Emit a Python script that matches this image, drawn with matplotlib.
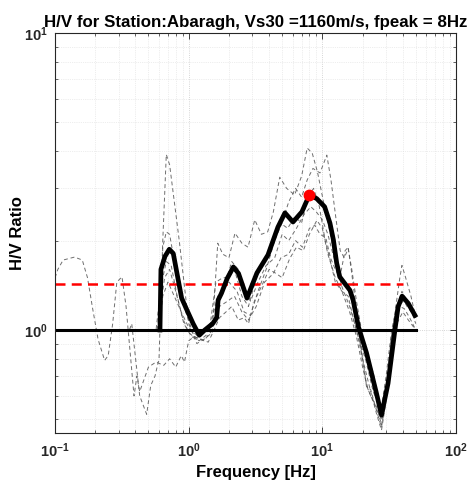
import matplotlib
matplotlib.use("Agg")
import math
import matplotlib.pyplot as plt
from matplotlib.ticker import LogLocator, FuncFormatter, NullFormatter

plt.rcParams['font.family'] = ['Liberation Sans', 'DejaVu Sans']
plt.rcParams['mathtext.fontset'] = 'custom'
plt.rcParams['mathtext.bf'] = 'Liberation Sans:bold'
plt.rcParams['mathtext.rm'] = 'Liberation Sans:bold'
plt.rcParams['mathtext.it'] = 'Liberation Sans:bold'

title_text = "H/V for Station:Abaragh, Vs30 =1160m/s, fpeak = 8Hz"
x_label = "Frequency [Hz]"
y_label = "H/V Ratio"

# Mean H/V curve (thick black)
mean_f = [0.61, 0.62, 0.665, 0.716, 0.767, 0.836, 0.886, 0.968, 1.08, 1.20, 1.32, 1.51, 1.62,
          1.66, 1.76, 1.94, 2.16, 2.36, 2.73, 3.24, 3.92, 4.65, 5.25, 6.03, 7.03, 8.0, 9.07,
          10.4, 11.4, 12.1, 12.8, 13.5, 14.7, 16.1, 17.0, 18.6, 21.4, 25.4, 27.7, 31.0, 34.9,
          36.9, 39.5, 43.9, 49.3]
mean_a = [1.0, 1.6, 1.77, 1.87, 1.81, 1.47, 1.28, 1.17, 1.05, 0.96, 1.0, 1.05, 1.10,
          1.26, 1.33, 1.49, 1.63, 1.55, 1.28, 1.556, 1.79, 2.22, 2.48, 2.31, 2.5, 2.85, 2.77,
          2.60, 2.29, 2.01, 1.68, 1.51, 1.435, 1.36, 1.26, 1.026, 0.837, 0.612, 0.517, 0.661, 1.0,
          1.198, 1.30, 1.23, 1.12]

# Individual window curves (thin dashed)
w1_f = [0.1, 0.105, 0.115, 0.14, 0.16, 0.175, 0.19, 0.21, 0.235, 0.25, 0.27, 0.29, 0.317, 0.34,
        0.39, 0.41, 0.43, 0.5, 0.57, 0.65, 0.72, 0.8, 0.88, 0.93, 1.0, 1.1, 1.25, 1.4, 1.55, 1.7,
        1.9, 2.1, 2.35, 2.6, 2.8, 3.1, 3.5, 4.0, 4.5, 5.0, 5.7, 6.4, 7.2, 8.0, 9.1, 10, 11, 12.5,
        14, 16, 18, 20, 22, 25, 27.7, 30, 33, 36, 40, 44, 50]
w1_a = [1.5, 1.6, 1.72, 1.76, 1.72, 1.5, 1.2, 0.93, 0.79, 0.82, 1.05, 1.45, 1.51, 1.2,
        0.6, 0.7, 0.62, 0.75, 0.78, 0.76, 0.80, 0.75, 0.82, 0.78, 0.92, 0.95, 0.93, 0.91, 1.0, 1.1,
        1.15, 1.2, 1.08, 1.1, 1.05, 1.25, 1.4, 1.6, 1.55, 1.5, 1.74, 1.9, 1.85, 2.1, 2.34, 2.2, 1.8, 1.5,
        1.35, 1.15, 0.95, 0.75, 0.63, 0.55, 0.5, 0.62, 0.9, 1.05, 1.15, 1.08, 1.0]

w2_f = [0.1, 0.36, 0.375, 0.43, 0.485, 0.52, 0.56, 0.6, 0.64, 0.68, 0.72, 0.85, 1.0, 1.15, 1.3,
        1.5, 1.65, 1.8, 2.0, 2.22, 2.5, 2.78, 3.12, 3.5, 3.9, 4.3, 4.8, 5.4, 6.2, 7.0, 7.7, 8.4,
        9.2, 10.2, 11.5, 12.5, 14, 16, 18, 20, 23, 25.5, 27.7, 29.5, 32, 35, 38, 39.4, 42, 46, 50]
w2_a = [1.0, 1.0, 1.05, 0.6, 0.52, 0.65, 0.70, 0.8, 2.0, 3.9, 3.6, 2.0, 1.05, 0.90, 0.93,
        0.98, 1.96, 1.8, 1.75, 2.12, 1.96, 1.9, 2.35, 2.1, 2.14, 2.5, 3.27, 3.0, 2.85, 3.3, 4.1, 3.94,
        3.4, 2.7, 2.1, 1.7, 1.4, 1.2, 1.0, 0.8, 0.62, 0.52, 0.46, 0.55, 0.85, 1.15, 1.5, 1.65, 1.5, 1.3, 1.1]

w3_f = [0.1, 0.55, 0.61, 0.64, 0.68, 0.72, 0.8, 0.95, 1.1, 1.3, 1.5, 1.7, 2.0, 2.3, 2.6, 2.9,
        3.3, 3.8, 4.4, 5.0, 5.6, 6.3, 7.0, 7.7, 8.5, 9.6, 10.8, 11.6, 12.6, 13.6, 14.6, 15.6,
        16.6, 18, 20, 22, 24, 26, 28, 30, 33, 36, 40, 45, 50]
w3_a = [1.0, 1.0, 1.0, 1.9, 2.14, 2.1, 1.6, 1.15, 0.95, 0.92, 1.0, 1.3, 1.45, 1.35, 1.15, 1.12,
        1.35, 1.6, 2.0, 2.3, 2.7, 3.0, 2.8, 3.2, 3.5, 3.38, 3.88, 3.2, 2.4, 1.85, 1.75, 1.88,
        1.6, 1.25, 0.95, 0.8, 0.72, 0.6, 0.5, 0.62, 0.95, 1.15, 1.25, 1.2, 1.05]

w4_f = [0.1, 0.58, 0.62, 0.66, 0.72, 0.8, 0.9, 1.0, 1.15, 1.3, 1.45, 1.6, 1.8, 2.0, 2.2, 2.5,
        2.8, 3.2, 3.7, 4.2, 4.8, 5.5, 6.2, 7.0, 7.8, 8.6, 9.5, 10.5, 11.5, 12.5, 14, 15.6, 17,
        18.5, 21, 24, 27.5, 30, 33, 36, 39, 43, 50]
w4_a = [1.0, 1.0, 1.2, 1.5, 1.6, 1.35, 1.1, 0.98, 0.93, 1.0, 1.05, 1.45, 1.5, 1.5, 1.6, 1.3,
        1.2, 1.5, 1.7, 2.0, 2.3, 2.2, 2.4, 2.3, 2.8, 3.0, 2.6, 2.0, 1.7, 1.45, 1.35, 1.3, 1.1,
        0.95, 0.8, 0.62, 0.54, 0.7, 1.0, 1.2, 1.3, 1.2, 1.1]

w5_f = [0.1, 0.57, 0.62, 0.68, 0.74, 0.82, 0.92, 1.05, 1.2, 1.35, 1.5, 1.65, 1.85, 2.1, 2.35,
        2.6, 2.9, 3.3, 3.8, 4.4, 5.0, 5.6, 6.4, 7.3, 8.2, 9.0, 10.0, 11.0, 12.0, 13.2, 14.5,
        15.8, 17.5, 19, 21.4, 23, 25.5, 27.7, 30, 32.5, 35, 38, 41, 45, 50]
w5_a = [1.0, 1.0, 1.4, 1.7, 1.65, 1.3, 1.05, 0.95, 0.92, 0.96, 1.1, 1.3, 1.4, 1.7, 1.6,
        1.4, 1.25, 1.45, 1.65, 1.75, 2.1, 2.0, 2.2, 2.45, 2.6, 2.5, 2.35, 2.1, 1.8, 1.55, 1.45,
        1.35, 1.15, 0.95, 0.65, 0.6, 0.55, 0.48, 0.58, 0.9, 1.1, 1.2, 1.18, 1.1, 1.0]

w6_f = [0.1, 0.6, 0.64, 0.7, 0.78, 0.88, 1.0, 1.15, 1.35, 1.55, 1.7, 1.95, 2.2, 2.5, 2.8, 3.2,
        3.7, 4.3, 4.9, 5.6, 6.3, 7.1, 8.0, 8.8, 9.6, 10.6, 11.5, 12.5, 13.5, 14.8, 15.6, 16.6,
        18, 19.5, 21.4, 23, 25, 27.7, 30, 33, 36, 39.4, 43, 50]
w6_a = [1.0, 1.0, 1.3, 1.45, 1.3, 1.15, 1.02, 0.96, 0.98, 1.05, 1.2, 1.25, 1.3, 1.15, 1.08, 1.2,
        1.45, 1.55, 1.75, 1.8, 2.0, 1.9, 2.2, 2.25, 2.1, 2.05, 1.75, 1.6, 1.5, 1.85, 1.9, 1.55,
        1.15, 0.85, 0.645, 0.63, 0.55, 0.47, 0.6, 0.95, 1.2, 1.35, 1.25, 1.1]

window_f = [w1_f, w2_f, w3_f, w4_f, w5_f, w6_f]
window_a = [w1_a, w2_a, w3_a, w4_a, w5_a, w6_a]

peak_f = 8.0
peak_a = 2.85
half_peak = peak_a / 2
ref_level = 1.0
ref_range = [0.1, 50]
half_range = [0.1, 40]

fig = plt.figure(figsize=(4.71, 4.82), dpi=100)
ax = fig.add_axes([0.1168, 0.1017, 0.8514, 0.8298])
ax.set_xscale('log')
ax.set_yscale('log')

ax.grid(True, which='major', linestyle=':', color='#c8c8c8', linewidth=0.6)
ax.grid(True, which='minor', linestyle=':', color='#dddddd', linewidth=0.5)
ax.set_axisbelow(True)

for wf, wa in zip(window_f, window_a):
    ax.plot(wf, wa, linestyle=(0, (4, 3)), color='#555555', linewidth=0.7, alpha=0.85)

ax.plot(ref_range, [ref_level, ref_level], color='black', linewidth=2.2)
ax.plot(half_range, [half_peak, half_peak], color='red', linestyle=(0, (4, 2.5)), linewidth=1.8)
ax.plot(mean_f, mean_a, color='black', linewidth=3.4, solid_joinstyle='round')
ax.plot([peak_f], [peak_a], 'o', color='red', markersize=7.5)

ax.set_xlim(0.1, 100)
ax.set_ylim(0.45, 10)


def pow_fmt(v, pos):
    e = int(round(math.log10(v)))
    return r'$\mathbf{10^{%d}}$' % e


ax.xaxis.set_major_locator(LogLocator(base=10, numticks=10))
ax.xaxis.set_minor_locator(LogLocator(base=10, subs=range(2, 10), numticks=20))
ax.yaxis.set_major_locator(LogLocator(base=10, numticks=10))
ax.yaxis.set_minor_locator(LogLocator(base=10, subs=range(2, 10), numticks=20))
ax.xaxis.set_major_formatter(FuncFormatter(pow_fmt))
ax.yaxis.set_major_formatter(FuncFormatter(pow_fmt))
ax.xaxis.set_minor_formatter(NullFormatter())
ax.yaxis.set_minor_formatter(NullFormatter())

ax.tick_params(which='both', direction='in', top=True, right=True, color='#262626')
ax.tick_params(which='major', length=4, width=0.6, labelsize=10.5, labelcolor='#262626')
ax.tick_params(axis='x', which='major', pad=6)
ax.tick_params(axis='y', which='major', pad=5)
ax.tick_params(which='minor', length=2.5, width=0.5)
for sp in ax.spines.values():
    sp.set_color('#262626')
    sp.set_linewidth(0.8)

ax.set_title(title_text, fontsize=12.2, fontweight='bold', pad=4)
ax.set_xlabel(x_label, fontsize=12, fontweight='bold')
ax.set_ylabel(y_label, fontsize=12, fontweight='bold')
ax.xaxis.set_label_coords(0.5, -0.08)
ax.yaxis.set_label_coords(-0.075, 0.5)

fig.savefig('out.png', dpi=100)
